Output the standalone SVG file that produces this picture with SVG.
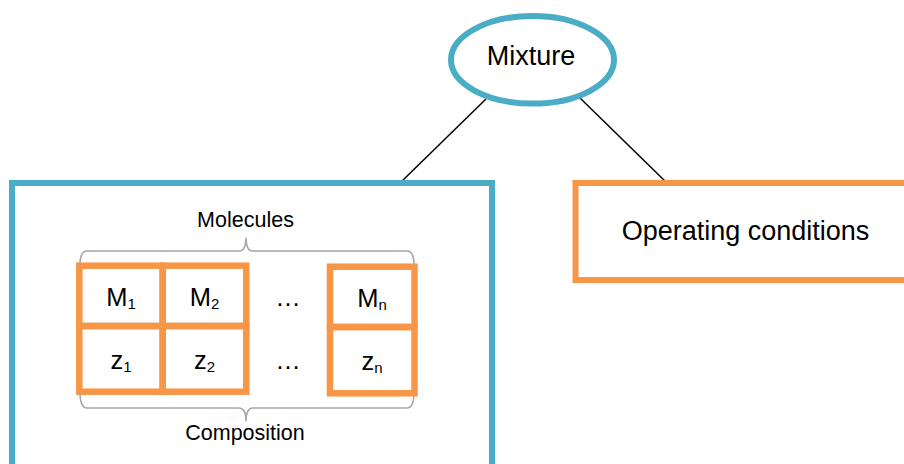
<svg xmlns="http://www.w3.org/2000/svg" width="904" height="464" viewBox="0 0 904 464">
  <style>
    .teal { fill: #ffffff; stroke: #4BACC6; stroke-width: 6; }
    .orange { fill: #ffffff; stroke: #F79646; stroke-width: 6; }
    .cell { fill: none; stroke: #F79646; stroke-width: 6.5; }
    .brace { fill: none; stroke: #A6A6A6; stroke-width: 1.6; }
    .link { stroke: #000000; stroke-width: 1.5; fill: none; }
    text { font-family: "Liberation Sans", Arial, sans-serif; fill: #000000; }
    .big { font-size: 27px; }
    .label { font-size: 21.5px; }
    .cellText { font-size: 25.5px; text-anchor: middle; }
    .sub { font-size: 15px; }
  </style>

  <rect width="904" height="464" fill="#ffffff"/>

  <!-- connectors -->
  <g id="connectors">
    <line class="link" x1="486" y1="99" x2="400" y2="183"/>
    <line class="link" x1="580" y1="98" x2="667" y2="183"/>
  </g>

  <!-- root: Mixture -->
  <g id="node-mixture">
    <ellipse class="teal" cx="532.5" cy="59.8" rx="81.5" ry="43.8"/>
    <text class="big" x="531" y="65" text-anchor="middle">Mixture</text>
  </g>

  <!-- composition container -->
  <g id="node-molecules">
    <rect class="teal" x="12" y="183" width="480" height="300"/>

    <!-- braces -->
    <path class="brace" d="M80 265 Q80 251 87 251 L239 251 Q246 251 246 237.5 Q246 251 253 251 L407 251 Q414 251 414 265"/>
    <path class="brace" d="M80 392 Q80 408 87 408 L239 408 Q246 408 246 421.5 Q246 408 253 408 L407 408 Q414 408 414 392"/>
    <text class="label" x="245.5" y="226.5" text-anchor="middle">Molecules</text>
    <text class="label" x="245" y="440" text-anchor="middle">Composition</text>

    <!-- column 1 -->
    <g id="cell-m1">
      <rect class="cell" x="79.3" y="265.7" width="83.4" height="60.3"/>
      <text class="cellText" x="121" y="306">M<tspan class="sub" dy="3">1</tspan></text>
    </g>
    <g id="cell-z1">
      <rect class="cell" x="79.3" y="326" width="83.4" height="65.7"/>
      <text class="cellText" x="121" y="369">z<tspan class="sub" dy="3">1</tspan></text>
    </g>

    <!-- column 2 -->
    <g id="cell-m2">
      <rect class="cell" x="162.7" y="265.7" width="83.6" height="60.3"/>
      <text class="cellText" x="204.5" y="306">M<tspan class="sub" dy="3">2</tspan></text>
    </g>
    <g id="cell-z2">
      <rect class="cell" x="162.7" y="326" width="83.6" height="65.7"/>
      <text class="cellText" x="204.5" y="369">z<tspan class="sub" dy="3">2</tspan></text>
    </g>

    <!-- ellipsis column -->
    <text class="cellText" x="288" y="306">…</text>
    <text class="cellText" x="288" y="368.5">…</text>

    <!-- column n -->
    <g id="cell-mn">
      <rect class="cell" x="330" y="266.7" width="84.5" height="60.3"/>
      <text class="cellText" x="372" y="307">M<tspan class="sub" dy="3">n</tspan></text>
    </g>
    <g id="cell-zn">
      <rect class="cell" x="330" y="327" width="84.5" height="66.3"/>
      <text class="cellText" x="372" y="369.5">z<tspan class="sub" dy="3">n</tspan></text>
    </g>
  </g>

  <!-- operating conditions -->
  <g id="node-operating">
    <rect class="orange" x="575.5" y="183" width="340" height="97"/>
    <text class="big" x="745.5" y="240" text-anchor="middle" font-size="26">Operating conditions</text>
  </g>
</svg>
